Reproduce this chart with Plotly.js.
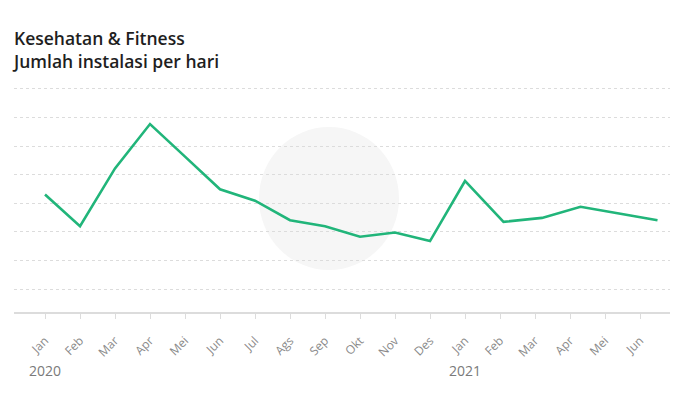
<!DOCTYPE html>
<html>
<head>
<meta charset="utf-8">
<script src="https://cdn.plot.ly/plotly-3.0.1.min.js"></script>
<style>html,body{margin:0;padding:0;background:#fff;}#chart{width:684px;height:397px;}</style>
</head>
<body>
<div id="chart"></div>
<script>
// Month labels (tick labels)
const monthLabels = ["Jan","Feb","Mar","Apr","Mei","Jun","Jul","Ags","Sep","Okt","Nov","Des","Jan","Feb","Mar","Apr","Mei","Jun"];
// Tick positions (month index)
const tickPos = [0,1,2,3,4,5,6,7,8,9,10,11,12,13,14,15,16,17];
// Point positions along the month axis
const pointPos = [0,1,2,3,4,5,6,7,8,9,10,11,12,13.1,14.2,15.3,16.4,17.5];
// Daily installs (relative units)
const installs = [3.31,2.20,4.22,5.77,4.63,3.49,3.09,2.41,2.20,1.83,1.98,1.68,3.78,2.35,2.49,2.88,2.64,2.41];
// Year labels
const years = ["2020","2021"];
const yearPos = [0,12];

const plotTop = 80, plotBottom = 312;

const trace = {
  x: pointPos,
  y: installs,
  type: "scatter",
  mode: "lines",
  line: {color: "#21b57a", width: 2.6},
  hoverinfo: "skip"
};

const annotations = years.map((yr, i) => ({
  x: yearPos[i], xref: "x",
  y: (plotBottom - 370) / (plotBottom - plotTop), yref: "paper",
  text: yr, showarrow: false,
  font: {family: "Open Sans, sans-serif", size: 14, color: "#7a7a7a"},
  xanchor: "center", yanchor: "middle"
}));

const layout = {
  width: 684, height: 397,
  margin: {l: 14, r: 14, t: plotTop, b: 397 - plotBottom},
  paper_bgcolor: "#fff", plot_bgcolor: "#fff",
  showlegend: false,
  title: {
    text: "Kesehatan & Fitness<br>Jumlah instalasi per hari",
    x: 14/684, xref: "container", xanchor: "left",
    y: 1 - 45/397, yref: "container", yanchor: "middle",
    font: {family: "Open Sans, sans-serif", size: 17.5, color: "#1e1e1e", weight: 600}
  },
  xaxis: {
    type: "linear",
    range: [-0.886, 17.857],
    tickvals: tickPos, ticktext: monthLabels,
    tickangle: -45,
    ticks: "outside", ticklen: 5, tickcolor: "#dcdcdc", tickwidth: 1,
    ticklabelstandoff: 10,
    showline: true, linecolor: "#dcdcdc", linewidth: 2,
    showgrid: false, zeroline: false,
    tickfont: {family: "Open Sans, sans-serif", size: 12, color: "#8a8a8a"}
  },
  yaxis: {
    range: [-0.8, 7.31],
    dtick: 1, tick0: 0,
    showticklabels: false,
    showgrid: true, gridcolor: "#dcdcdc", gridwidth: 1, griddash: "dot",
    zeroline: false, showline: false
  },
  shapes: [{
    type: "circle", layer: "below",
    xref: "paper", yref: "paper",
    x0: (259-14)/656, x1: (399-14)/656,
    y0: (plotBottom-270)/232, y1: (plotBottom-127)/232,
    fillcolor: "#f6f6f6", line: {width: 0}
  }],
  annotations: annotations
};

Plotly.newPlot("chart", [trace], layout, {staticPlot: true, displayModeBar: false});
</script>
</body>
</html>
